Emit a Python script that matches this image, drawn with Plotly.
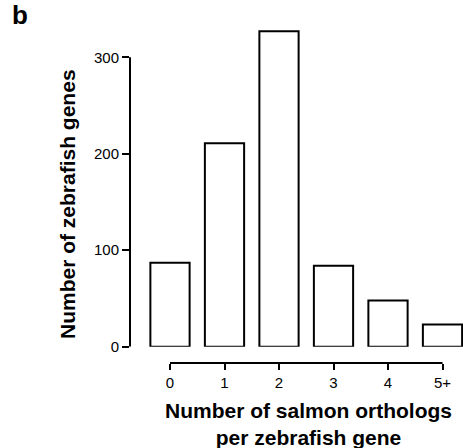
import plotly.graph_objects as go

categories = ["0", "1", "2", "3", "4", "5+"]
positions = [0, 1, 2, 3, 4, 5]
counts = [87, 211, 327, 84, 48, 23]
y_ticks = [0, 100, 200, 300]

W, H = 463, 448
ml, mr, mt, mb = 130, 0, 20, 85
pw, ph = W - ml - mr, H - mt - mb
y_zero_px = 346.7
ydom0 = (H - mb - y_zero_px) / ph
px_per_unit = 0.9647
y_top = (y_zero_px - mt) / px_per_unit

x_left = -0.734
x_right = x_left + pw / 54.5

FONT = "Liberation Sans, Arial, Helvetica, sans-serif"

fig = go.Figure()
fig.add_trace(go.Bar(
    x=positions, y=counts, width=0.72,
    marker=dict(color="white", line=dict(color="black", width=2)),
    showlegend=False,
))

fig.update_layout(
    width=W, height=H,
    margin=dict(l=ml, r=mr, t=mt, b=mb, pad=0),
    paper_bgcolor="white", plot_bgcolor="white",
    font=dict(family=FONT, color="black", size=15),
    xaxis=dict(
        range=[x_left, x_right], tickmode="array", tickvals=positions,
        ticktext=categories, ticks="outside", ticklen=6, tickwidth=2,
        tickcolor="black", showline=False, showgrid=False, zeroline=False,
        anchor="free", position=0, tickfont=dict(size=15),
    ),
    yaxis=dict(
        range=[0, y_top], domain=[ydom0, 1], tickmode="array",
        tickvals=y_ticks, ticks="outside", ticklen=7, tickwidth=2,
        tickcolor="black", showline=False, showgrid=False, zeroline=False,
        tickfont=dict(size=15),
    ),
)

# detached spines
fig.add_shape(type="line", xref="paper", yref="y", x0=0, x1=0,
              y0=y_ticks[0], y1=y_ticks[-1], line=dict(color="black", width=2))
fig.add_shape(type="line", xref="x", yref="paper", x0=positions[0],
              x1=positions[-1], y0=0, y1=0, line=dict(color="black", width=2))

fig.add_annotation(text="<b>b</b>", xref="paper", yref="paper",
                   x=(10 - ml) / pw, y=(H - mb - 15) / ph, xanchor="left",
                   yanchor="middle", showarrow=False, font=dict(size=26))
fig.add_annotation(text="<b>Number of zebrafish genes</b>", xref="paper",
                   yref="paper", x=(67 - ml) / pw, y=(H - mb - 204) / ph,
                   textangle=-90, showarrow=False, font=dict(size=21),
                   xanchor="center", yanchor="middle")
fig.add_annotation(text="<b>Number of salmon orthologs<br>per zebrafish gene</b>",
                   xref="paper", yref="paper", x=(308.5 - ml) / pw,
                   y=(H - mb - 424) / ph, showarrow=False, font=dict(size=21),
                   xanchor="center", yanchor="middle")

fig.write_html("out.html")
